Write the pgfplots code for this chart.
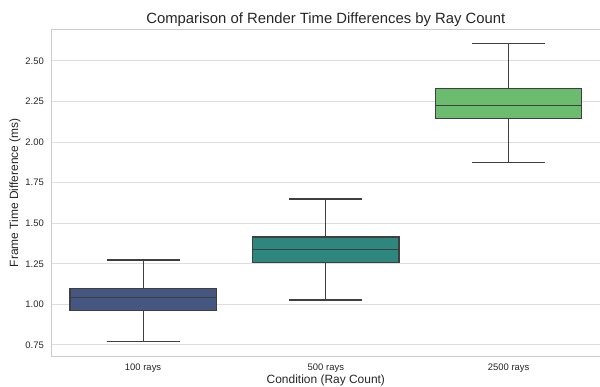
\documentclass[border=0pt]{standalone}
\usepackage{fontspec}
\setmainfont{Liberation Sans}
\usepackage{pgfplots}
\pgfplotsset{compat=1.18}
\usepgfplotslibrary{statistics}
\definecolor{c1}{HTML}{455681}
\definecolor{c2}{HTML}{2E877E}
\definecolor{c3}{HTML}{6BBC6E}
\definecolor{edge}{HTML}{3F3F3F}
\definecolor{txt}{HTML}{262626}
\definecolor{gridc}{HTML}{DDDDDD}
\definecolor{spine}{HTML}{CCCCCC}
\begin{document}
\begin{tikzpicture}[x=1bp,y=1bp]
\begin{axis}[
  at={(0,0)}, anchor=south west,
  scale only axis, width=548.3bp, height=326.5bp,
  xmin=-0.5, xmax=2.5, ymin=0.682, ymax=2.693,
  boxplot/draw direction=y,
  xtick={0,1,2}, xticklabels={100 rays,500 rays,2500 rays},
  ytick={0.75,1.00,1.25,1.50,1.75,2.00,2.25,2.50},
  yticklabel={\pgfmathprintnumber[fixed,fixed zerofill,precision=2,assume math mode=true]{\tick}},
  major tick length=0pt,
  ymajorgrids, grid style={gridc, line width=1bp},
  axis line style={spine, line width=1bp},
  tick label style={font=\fontsize{9.5}{11}\selectfont, text=txt},
  yticklabel style={anchor=east, inner sep=0pt, xshift=-7.7bp},
  xticklabel style={anchor=north, inner sep=0pt, yshift=-7.3bp},
  xlabel={Condition (Ray Count)},
  ylabel={Frame Time Difference (ms)},
  every axis x label/.style={at={(axis description cs:0.5,-0.0827)}, anchor=base, font=\fontsize{12}{14}\selectfont, text=txt},
  every axis y label/.style={at={(axis description cs:-0.0669,0.5)}, anchor=center, rotate=90, font=\fontsize{12}{14}\selectfont, text=txt},
  title={Comparison of Render Time Differences by Ray Count},
  every axis title/.style={at={(axis description cs:0.5,1.0199)}, anchor=base, font=\fontsize{14.9}{18}\selectfont, text=txt},
  clip=false,
]
\addplot[boxplot prepared={draw position=0, lower whisker=0.770, lower quartile=0.964, median=1.044, upper quartile=1.099, upper whisker=1.273, box extend=0.8, whisker extend=0.4}, fill=c1, draw=edge, line width=1.1bp, mark=none] coordinates {};
\addplot[boxplot prepared={draw position=1, lower whisker=1.027, lower quartile=1.259, median=1.337, upper quartile=1.415, upper whisker=1.649, box extend=0.8, whisker extend=0.4}, fill=c2, draw=edge, line width=1.1bp, mark=none] coordinates {};
\addplot[boxplot prepared={draw position=2, lower whisker=1.873, lower quartile=2.146, median=2.226, upper quartile=2.331, upper whisker=2.605, box extend=0.8, whisker extend=0.4}, fill=c3, draw=edge, line width=1.1bp, mark=none] coordinates {};
\end{axis}
\pgfresetboundingbox
\path (-51.7bp,-31bp) rectangle (548.3bp,356bp);
\end{tikzpicture}
\end{document}
